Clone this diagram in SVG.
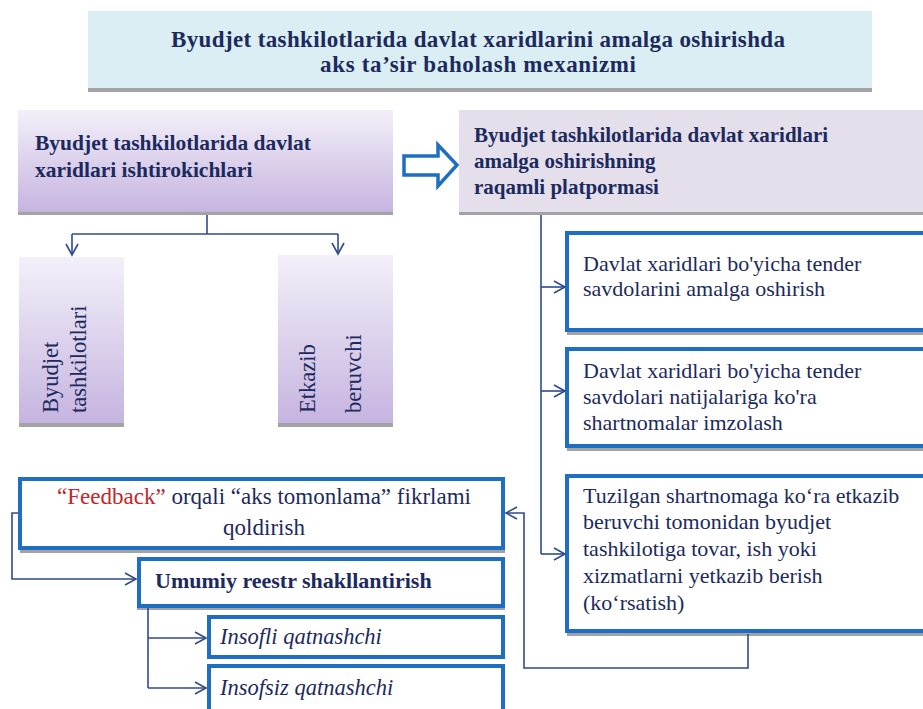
<svg xmlns="http://www.w3.org/2000/svg" width="923" height="709" viewBox="0 0 923 709">
<defs>
<linearGradient id="purp" x1="0" y1="0" x2="0" y2="1">
<stop offset="0" stop-color="#f3f0f9"/>
<stop offset="1" stop-color="#c6b4e0"/>
</linearGradient>
<marker id="arr" markerUnits="userSpaceOnUse" markerWidth="14" markerHeight="16" refX="12" refY="7" orient="auto">
<path d="M1,1 L12,7 L1,13" fill="none" stroke="#2f4b8c" stroke-width="1.6"/>
</marker>
<style>
text{fill:#1c2a5e}
.b{font-weight:bold}
.sh{fill:#a3a3a3}
.bx{fill:#ffffff;stroke:#1e6ec4;stroke-width:4}
.c{fill:none;stroke:#2f4b8c;stroke-width:1.6}
</style>
</defs>
<rect width="923" height="709" fill="#ffffff"/>

<g id="title">
<rect x="88" y="14" width="784" height="78" class="sh"/>
<rect x="88" y="11" width="784" height="77" fill="#dbeef3"/>
<text font-family="Liberation Serif, serif" class="b" x="478" y="47" font-size="23" text-anchor="middle" textLength="614" lengthAdjust="spacing">Byudjet tashkilotlarida  davlat xaridlarini amalga oshirishda</text>
<text font-family="Liberation Serif, serif" class="b" x="478" y="72" font-size="23" text-anchor="middle" textLength="316" lengthAdjust="spacing">aks ta’sir baholash mexanizmi</text>
</g>

<g id="participants">
<rect x="18" y="113" width="375" height="102" class="sh"/>
<rect x="18" y="110" width="375" height="102" fill="url(#purp)"/>
<text font-family="Liberation Serif, serif" class="b" x="35" y="150" font-size="21.5">Byudjet tashkilotlarida davlat</text>
<text font-family="Liberation Serif, serif" class="b" x="35" y="177" font-size="21.5">xaridlari ishtirokichlari</text>
</g>

<g id="block-arrow">
<path d="M404,156 L438,156 L438,145 L457,165 L438,186 L438,175 L404,175 Z" fill="#ffffff" stroke="#1e6ec4" stroke-width="3.5" stroke-linejoin="miter"/>
</g>

<g id="platform">
<rect x="459" y="113" width="470" height="102" class="sh"/>
<rect x="459" y="110" width="470" height="102" fill="#e4dfeb"/>
<text font-family="Liberation Serif, serif" class="b" x="474" y="142" font-size="21">Byudjet tashkilotlarida davlat xaridlari</text>
<text font-family="Liberation Serif, serif" class="b" x="474" y="168" font-size="21">amalga oshirishning</text>
<text font-family="Liberation Serif, serif" class="b" x="474" y="194" font-size="21">raqamli platpormasi</text>
</g>

<g id="budget-orgs">
<rect x="19" y="260" width="105" height="167" class="sh"/>
<rect x="19" y="257" width="105" height="166" fill="url(#purp)"/>
<text font-family="Liberation Serif, serif" font-size="22.5" transform="translate(58,413) rotate(-90)">Byudjet</text>
<text font-family="Liberation Serif, serif" font-size="22.5" transform="translate(86,413) rotate(-90)">tashkilotlari</text>
</g>

<g id="supplier">
<rect x="278" y="258" width="115" height="169" class="sh"/>
<rect x="278" y="255" width="115" height="168" fill="url(#purp)"/>
<text font-family="Liberation Serif, serif" font-size="22.5" transform="translate(315,413) rotate(-90)">Etkazib</text>
<text font-family="Liberation Serif, serif" font-size="22.5" transform="translate(361,413) rotate(-90)">beruvchi</text>
</g>

<g id="tender">
<rect x="567" y="236" width="360" height="99" class="sh"/>
<rect x="567" y="233" width="360" height="97" class="bx"/>
<text font-family="Liberation Serif, serif" x="583" y="271" font-size="22">Davlat xaridlari bo'yicha tender</text>
<text font-family="Liberation Serif, serif" x="583" y="296" font-size="22">savdolarini amalga oshirish</text>
</g>

<g id="contracts">
<rect x="567" y="352" width="360" height="99" class="sh"/>
<rect x="567" y="349" width="360" height="97" class="bx"/>
<text font-family="Liberation Serif, serif" x="583" y="378" font-size="22">Davlat xaridlari bo'yicha tender</text>
<text font-family="Liberation Serif, serif" x="583" y="404" font-size="22">savdolari natijalariga ko'ra</text>
<text font-family="Liberation Serif, serif" x="583" y="430" font-size="22">shartnomalar imzolash</text>
</g>

<g id="delivery">
<rect x="567" y="479" width="360" height="157" class="sh"/>
<rect x="567" y="476" width="360" height="155" class="bx"/>
<text font-family="Liberation Serif, serif" x="583" y="503" font-size="22">Tuzilgan shartnomaga ko‘ra etkazib</text>
<text font-family="Liberation Serif, serif" x="583" y="529" font-size="22">beruvchi tomonidan byudjet</text>
<text font-family="Liberation Serif, serif" x="583" y="556" font-size="22">tashkilotiga tovar, ish yoki</text>
<text font-family="Liberation Serif, serif" x="583" y="583" font-size="22">xizmatlarni yetkazib berish</text>
<text font-family="Liberation Serif, serif" x="583" y="610" font-size="22">(ko‘rsatish)</text>
</g>

<g id="feedback">
<rect x="20" y="482" width="485" height="71" class="sh"/>
<rect x="20" y="479" width="483" height="69" class="bx"/>
<text font-family="Liberation Serif, serif" x="264" y="504" font-size="23" text-anchor="middle"><tspan fill="#c0282d">“Feedback”</tspan> orqali “aks tomonlama” fikrlami</text>
<text font-family="Liberation Serif, serif" x="264" y="535" font-size="23" text-anchor="middle">qoldirish</text>
</g>

<g id="registry">
<rect x="137" y="561" width="368" height="49" class="sh"/>
<rect x="139" y="559" width="364" height="47" class="bx"/>
<text font-family="Liberation Serif, serif" class="b" x="155" y="588" font-size="22">Umumiy reestr shakllantirish</text>
</g>

<g id="honest">
<rect x="209" y="617" width="294" height="40" class="bx"/>
<text font-family="Liberation Serif, serif" x="220" y="644" font-size="22.5" font-style="italic">Insofli qatnashchi</text>
</g>

<g id="dishonest">
<rect x="209" y="666" width="294" height="48" class="bx"/>
<text font-family="Liberation Serif, serif" x="220" y="695" font-size="22.5" font-style="italic">Insofsiz qatnashchi</text>
</g>

<g id="connectors">
<path class="c" d="M207,215 L207,234"/>
<path class="c" d="M72,234 L338,234"/>
<path class="c" d="M72,234 L72,255" marker-end="url(#arr)"/>
<path class="c" d="M338,234 L338,254" marker-end="url(#arr)"/>
<path class="c" d="M541,215 L541,554"/>
<path class="c" d="M541,287 L565,287" marker-end="url(#arr)"/>
<path class="c" d="M541,391 L565,391" marker-end="url(#arr)"/>
<path class="c" d="M541,554 L565,554" marker-end="url(#arr)"/>
<path class="c" d="M748,634 L748,668 L524,668 L524,513 L506,513" marker-end="url(#arr)"/>
<path class="c" d="M18,513 L12,513 L12,579 L136,579" marker-end="url(#arr)"/>
<path class="c" d="M148,608 L148,688"/>
<path class="c" d="M148,638 L206,638" marker-end="url(#arr)"/>
<path class="c" d="M148,688 L206,688" marker-end="url(#arr)"/>
</g>
</svg>
